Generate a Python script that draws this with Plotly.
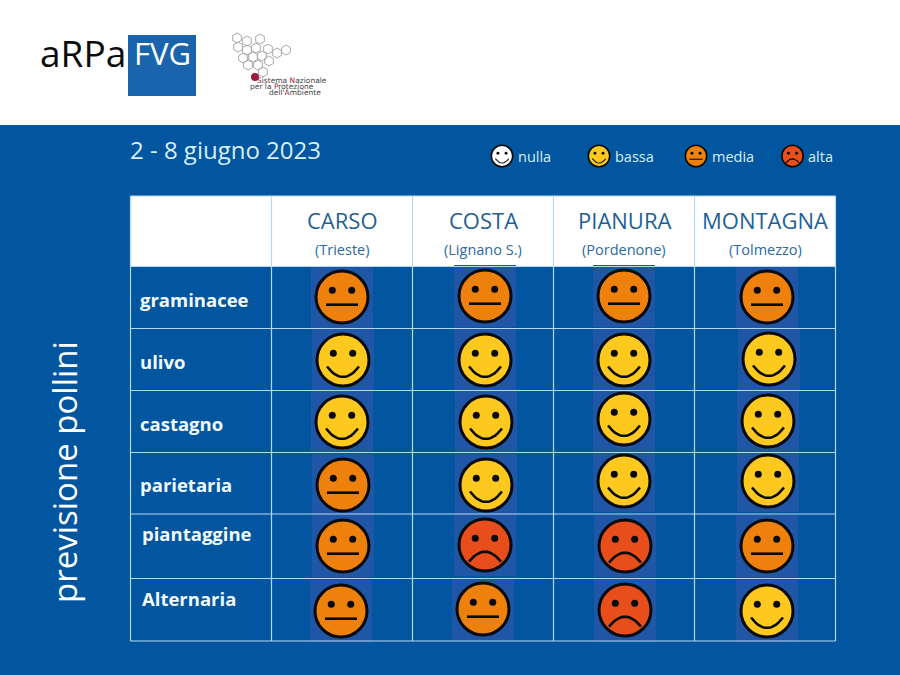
import numpy as np
import plotly.graph_objects as go

# table content
zones = ["CARSO", "COSTA", "PIANURA", "MONTAGNA"]
cities = ["(Trieste)", "(Lignano S.)", "(Pordenone)", "(Tolmezzo)"]
pollens = ["graminacee", "ulivo", "castagno", "parietaria", "piantaggine", "Alternaria"]
graminacee = ["media", "media", "media", "media"]
ulivo = ["bassa", "bassa", "bassa", "bassa"]
castagno = ["bassa", "bassa", "bassa", "bassa"]
parietaria = ["media", "bassa", "bassa", "bassa"]
piantaggine = ["media", "alta", "alta", "media"]
alternaria = ["media", "media", "alta", "bassa"]
levels = ["nulla", "bassa", "media", "alta"]
title = "2 - 8 giugno 2023"

table = [graminacee, ulivo, castagno, parietaria, piantaggine, alternaria]

# layout, in pixels of the 900x675 page
BLUE = "#02569f"
LINE = "#b5d8f2"
grid_x = [130.5, 271.5, 412.5, 553.5, 694.5, 835.5]
grid_y = [196, 266.5, 328.5, 390.5, 452.5, 514, 578.5, 641]
face_x = [[342, 485, 624, 767], [343, 485, 624, 769], [342, 486, 624, 768],
          [343, 486, 624, 768], [343, 485, 625, 767], [341, 483, 625, 767]]
face_y = [[297, 296, 296, 297], [360, 360, 360, 359], [422, 422, 419, 421],
          [485, 485, 481, 481], [546, 545, 546, 546], [611, 609, 610, 611]]
label_y = [299, 361, 423, 484, 533, 598]
label_x = [138, 138, 138, 138, 140, 140]
legend_x = [502, 599, 696, 792.5]
legend_tx = [516, 613, 710, 806]
fills = {"nulla": "#ffffff", "bassa": "#fdc91f", "media": "#ee800c", "alta": "#e84e1c"}


def add_faces(fig, xs, ys, lv, r, lw):
    xs, ys = np.array(xs, float), np.array(ys, float)
    s = r / 27.5
    fig.add_trace(go.Scatter(x=xs, y=ys, mode="markers", hoverinfo="skip", marker=dict(
        size=2 * r - lw, color=[fills[k] for k in lv], line=dict(color="#0a0a0a", width=lw))))
    fig.add_trace(go.Scatter(
        x=np.r_[xs - 9.7 * s, xs + 9.7 * s], y=np.r_[ys - 6.7 * s, ys - 6.7 * s],
        mode="markers", hoverinfo="skip", marker=dict(size=7 * s, color="#0a0a0a")))
    mx, my = [], []
    t = np.linspace(-1, 1, 15)
    for x, y, k in zip(xs, ys, lv):
        if k == "media":
            dy = 7.7 + 0 * t
        elif k == "alta":
            dy = 6.7 + 10 * t ** 2
        else:
            dy = 17 - 10.5 * t ** 2
        mx += list(x + 16 * s * t) + [None]
        my += list(y + s * dy) + [None]
    fig.add_trace(go.Scatter(x=mx, y=my, mode="lines", hoverinfo="skip",
                             line=dict(color="#0a0a0a", width=2.6 * s)))


fig = go.Figure()

shapes = [
    dict(type="rect", x0=0, x1=900, y0=0, y1=125, fillcolor="white", line_width=0),
    dict(type="rect", x0=130.5, x1=835.5, y0=196, y1=266.5, fillcolor="white", line_width=0),
    dict(type="rect", x0=128, x1=196, y0=35, y1=96, fillcolor="#1a63ad", line_width=0),
]
for xs, ys in zip(face_x, face_y):
    for x, y in zip(xs, ys):
        shapes.append(dict(type="rect", x0=x - 31, x1=x + 31, y0=y - 31, y1=y + 31,
                           fillcolor="#1f56a6", line_width=0))
for x in grid_x:
    shapes.append(dict(type="line", x0=x, x1=x, y0=196, y1=641, line=dict(color=LINE, width=1.2)))
for y in grid_y:
    shapes.append(dict(type="line", x0=130.5, x1=835.5, y0=y, y1=y, line=dict(color=LINE, width=1.2)))

add_faces(fig, sum(face_x, []), sum(face_y, []), sum(table, []), 27.5, 3)
add_faces(fig, legend_x, [156] * 4, levels, 11.5, 1.6)

# SNPA logo
hex_x = [237, 247, 260, 238, 256, 268, 286, 277, 247, 243, 253, 262, 269, 248, 258, 263]
hex_y = [38, 41, 39, 47, 48, 49, 50, 53, 50, 58, 57, 56, 61, 65, 65, 72]
fig.add_trace(go.Scatter(x=hex_x, y=hex_y, mode="markers", hoverinfo="skip", marker=dict(
    symbol="hexagon-open", size=10, color="#a9a9a9", line=dict(width=1, color="#a9a9a9"))))
fig.add_trace(go.Scatter(x=[255], y=[77], mode="markers", hoverinfo="skip",
                         marker=dict(size=8, color="#a01c3c")))


def label(text, x, y, size, color, anchor="left", family="Open Sans", **kw):
    fig.add_annotation(text=text, x=x, y=y, xref="x", yref="y", showarrow=False, xanchor=anchor,
                       yanchor="middle", font=dict(family=family, size=size, color=color), **kw)


RED = "#a01c3c"
label("aRPa", 38, 52, 37, "#0b0b0b")
label("FVG", 132, 53, 31, "white")
label(f'<span style="color:{RED}">S</span>istema <span style="color:{RED}">N</span>azionale',
      329, 80, 7.5, "#444444", "right", "DejaVu Sans")
label(f'per la <span style="color:{RED}">P</span>rotezione', 316, 86, 7.5, "#444444", "right", "DejaVu Sans")
label(f'dell\'<span style="color:{RED}">A</span>mbiente', 323, 92, 7.5, "#444444", "right", "DejaVu Sans")

label(title, 128, 149, 24, "#d8eef8")
label("previsione pollini", 64, 472, 33, "white", "center", textangle=-90)
for txt, x in zip(levels, legend_tx):
    label(txt, x, 156, 14.5, "#d8eef8")
for i, (z, c) in enumerate(zip(zones, cities)):
    cx = (grid_x[i + 1] + grid_x[i + 2]) / 2 - (grid_x[i + 1] - grid_x[i]) / 2 + 141 / 2 - 70.5
    cx = (grid_x[i + 1] + grid_x[i + 2]) / 2
    label(z, cx, 220, 22, "#1f5f95", "center")
    label(c, cx, 249, 14.5, "#2d6a9f", "center")
for txt, x, y in zip(pollens, label_x, label_y):
    label(f"<b>{txt}</b>", x, y, 18.5, "#f2f9fd")

fig.update_layout(
    width=900, height=675, margin=dict(l=0, r=0, t=0, b=0), showlegend=False,
    paper_bgcolor=BLUE, plot_bgcolor=BLUE, shapes=shapes,
    xaxis=dict(range=[0, 900], visible=False, fixedrange=True),
    yaxis=dict(range=[675, 0], visible=False, fixedrange=True),
)
for s in fig.layout.shapes:
    s.layer = "below"

fig.write_html("out.html", config={"displayModeBar": False},
               post_script="document.body.style.margin='0';")
